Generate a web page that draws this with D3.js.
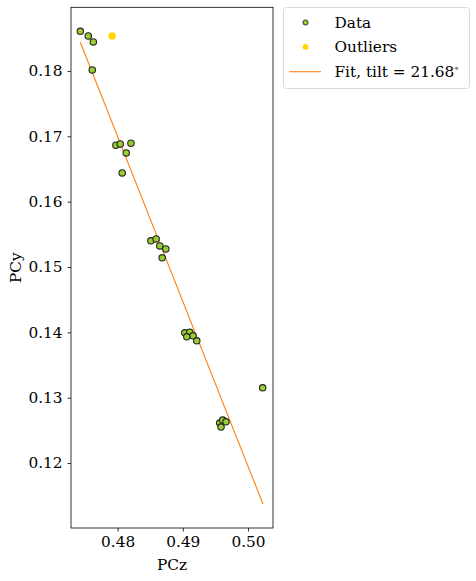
<!DOCTYPE html>
<meta charset="utf-8">
<script src="https://d3js.org/d3.v7.min.js"></script>
<style>
  body { margin: 0; background: #fff; }
  svg text { font-family: "DejaVu Serif", serif; fill: #000; }
</style>
<div id="my_dataviz"></div>
<script>
  // data
  var dataZ = [0.47428, 0.47550, 0.47627, 0.47611, 0.47974, 0.48040, 0.48204, 0.48132, 0.48070,
    0.48510, 0.48591, 0.48647, 0.48739, 0.48683, 0.49030, 0.49107, 0.49061, 0.49157, 0.49214,
    0.50224, 0.49566, 0.49612, 0.49662, 0.49586];
  var dataY = [0.18607, 0.18535, 0.18444, 0.18015, 0.16864, 0.16883, 0.16894, 0.16746, 0.16440,
    0.15400, 0.15430, 0.15323, 0.15277, 0.15140, 0.13993, 0.14003, 0.13932, 0.13947, 0.13870,
    0.13151, 0.12612, 0.12657, 0.12631, 0.12550];
  var outlierZ = [0.47917];
  var outlierY = [0.18535];
  var fitZ = [0.47428, 0.50229];
  var fitY = [0.18439, 0.11373];
  var xTicks = [0.48, 0.49, 0.50];
  var yTicks = [0.12, 0.13, 0.14, 0.15, 0.16, 0.17, 0.18];
  var legendLabels = ["Data", "Outliers", "Fit, tilt = 21.68"];

  var margin = { top: 7.3, left: 71, right: 203, bottom: 53 },
    width = 476 - margin.left - margin.right,
    height = 581 - margin.top - margin.bottom;

  var svg = d3.select("#my_dataviz")
    .append("svg")
    .attr("width", 476)
    .attr("height", 581)
    .append("g")
    .attr("transform", "translate(" + margin.left + "," + margin.top + ")");

  var x = d3.scaleLinear().domain([0.47285, 0.50383]).range([0, width]);
  var y = d3.scaleLinear().domain([0.11006, 0.18974]).range([height, 0]);

  // axes
  var xAxis = svg.append("g")
    .attr("transform", "translate(0," + height + ")")
    .call(d3.axisBottom(x).tickValues(xTicks).tickFormat(d3.format(".2f")).tickSizeOuter(0).tickSize(3.5).tickPadding(5));
  var yAxis = svg.append("g")
    .call(d3.axisLeft(y).tickValues(yTicks).tickFormat(d3.format(".2f")).tickSizeOuter(0).tickSize(3.5).tickPadding(5));
  [xAxis, yAxis].forEach(function (a) {
    a.select(".domain").remove();
    a.selectAll("line").attr("stroke", "#000").attr("stroke-width", 0.8);
    a.selectAll("text").style("font-family", "DejaVu Serif").style("font-size", "15.3px");
  });

  // fit line
  svg.append("line")
    .attr("x1", x(fitZ[0])).attr("y1", y(fitY[0]))
    .attr("x2", x(fitZ[1])).attr("y2", y(fitY[1]))
    .attr("stroke", "#ff7f0e")
    .attr("stroke-width", 1.1);

  // data points
  svg.append("g")
    .selectAll("circle")
    .data(dataZ)
    .enter()
    .append("circle")
    .attr("cx", function (d) { return x(d); })
    .attr("cy", function (d, i) { return y(dataY[i]); })
    .attr("r", 3.2)
    .attr("fill", "#9acd32")
    .attr("stroke", "#222")
    .attr("stroke-width", 1.1);

  svg.append("g")
    .selectAll("circle")
    .data(outlierZ)
    .enter()
    .append("circle")
    .attr("cx", function (d) { return x(d); })
    .attr("cy", function (d, i) { return y(outlierY[i]); })
    .attr("r", 3.7)
    .attr("fill", "#ffd700");

  // frame
  svg.append("rect")
    .attr("width", width).attr("height", height)
    .attr("fill", "none").attr("stroke", "#000").attr("stroke-width", 0.8);

  // axis labels
  svg.append("text")
    .attr("x", width / 2).attr("y", height + 42)
    .attr("text-anchor", "middle")
    .style("font-size", "15.3px")
    .text("PCz");
  svg.append("text")
    .attr("transform", "translate(-50," + (height / 2) + ") rotate(-90)")
    .attr("text-anchor", "middle")
    .style("font-size", "15.3px")
    .text("PCy");

  // legend
  var lg = d3.select("svg").append("g").attr("transform", "translate(283.5,7.5)");
  lg.append("rect")
    .attr("width", 186).attr("height", 81).attr("rx", 3)
    .attr("fill", "#fff").attr("stroke", "#d0d0d0").attr("stroke-width", 0.8);
  var rowY = [15, 39.3, 64.2];
  lg.append("circle").attr("cx", 22).attr("cy", rowY[0]).attr("r", 2.6)
    .attr("fill", "#9acd32").attr("stroke", "#222").attr("stroke-width", 0.9);
  lg.append("circle").attr("cx", 22).attr("cy", rowY[1]).attr("r", 2.9)
    .attr("fill", "#ffd700");
  lg.append("line").attr("x1", 6).attr("x2", 37.5).attr("y1", rowY[2]).attr("y2", rowY[2])
    .attr("stroke", "#ff7f0e").attr("stroke-width", 1.1);
  lg.selectAll("text.lab")
    .data(legendLabels)
    .enter()
    .append("text")
    .attr("class", "lab")
    .attr("x", 51).attr("y", function (d, i) { return rowY[i] + 5.5; })
    .style("font-size", "15.3px")
    .text(function (d) { return d; })
    .append("tspan")
    .attr("dy", -6).attr("font-size", "9px")
    .text(function (d, i) { return i === 2 ? "\u2218" : ""; });
</script>
